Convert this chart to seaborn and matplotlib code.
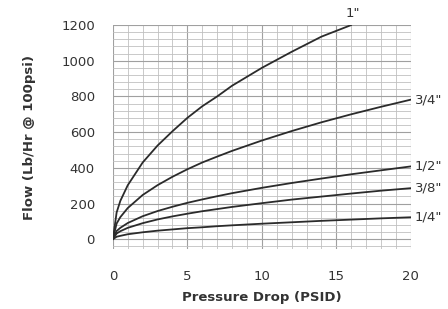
import matplotlib
matplotlib.use("Agg")
import matplotlib.pyplot as plt
from matplotlib.ticker import MultipleLocator
import seaborn as sns
import pandas as pd

sns.set_style("white")
plt.rcParams['font.family'] = ['DejaVu Sans']

pressure = [0, 0.25, 0.5, 1, 2, 3, 4, 5, 6, 7, 8, 10, 12, 14, 16, 18, 20]
flow_1 = [0, 150, 215, 303, 430, 525, 605, 680, 745, 800, 860, 960, 1050, 1135, 1200]
flow_3_4 = [0, 88, 124, 175, 248, 303, 350, 392, 430, 463, 495, 553, 606, 655, 700, 742, 782]
flow_1_2 = [0, 46, 64, 91, 129, 158, 182, 204, 223, 241, 258, 288, 315, 340, 364, 386, 408]
flow_3_8 = [0, 32, 45, 64, 90, 111, 128, 143, 157, 169, 181, 202, 222, 239, 256, 272, 286]
flow_1_4 = [0, 14, 19, 28, 39, 48, 55, 62, 67, 73, 78, 87, 95, 103, 110, 117, 123]
sizes = ['1"', '3/4"', '1/2"', '3/8"', '1/4"']
series = [flow_1, flow_3_4, flow_1_2, flow_3_8, flow_1_4]

rows = []
for name, vals in zip(sizes, series):
    for x, y in zip(pressure, vals):
        rows.append({"size": name, "dp": x, "flow": y})
df = pd.DataFrame(rows)

fig = plt.figure(figsize=(4.48, 3.09), dpi=100)
ax = fig.add_axes([0.252, 0.194, 0.665, 0.725])

sns.lineplot(data=df, x="dp", y="flow", units="size", estimator=None,
             color="#2b2b2b", linewidth=1.3, ax=ax, legend=False)

ax.set_xlim(0, 20)
ax.set_ylim(-55, 1200)
ax.xaxis.set_major_locator(MultipleLocator(5))
ax.xaxis.set_minor_locator(MultipleLocator(1))
ax.yaxis.set_major_locator(MultipleLocator(200))
ax.yaxis.set_minor_locator(MultipleLocator(40))
ax.grid(which="major", color="#a0a0a0", linewidth=0.8)
ax.grid(which="minor", color="#c0c0c0", linewidth=0.6)
ax.set_axisbelow(True)
for s in ax.spines.values():
    s.set_visible(False)
ax.tick_params(which="major", direction="out", length=4, width=0.8,
               color="#a0a0a0", labelsize=9.5, labelcolor="#333333")
ax.tick_params(axis="x", pad=11)
ax.tick_params(axis="y", pad=9)
ax.tick_params(which="minor", length=0)

ax.set_xlabel("Pressure Drop (PSID)", fontsize=9.5, fontweight="bold",
              color="#333333", labelpad=6)
ax.set_ylabel("Flow (Lb/Hr @ 100psi)", fontsize=9.5, fontweight="bold",
              color="#333333", labelpad=18)

# curve labels
ax.annotate(sizes[0], xy=(pressure[len(flow_1) - 1], flow_1[-1]),
            xytext=(-4, 8), textcoords="offset points", ha="left", va="center",
            fontsize=9.5, color="#333333", annotation_clip=False)
for name, vals in zip(sizes[1:], series[1:]):
    ax.annotate(name, xy=(pressure[-1], vals[-1]), xytext=(3, 0),
                textcoords="offset points", ha="left", va="center",
                fontsize=9.5, color="#333333", annotation_clip=False)

fig.savefig("out.png", dpi=100)
